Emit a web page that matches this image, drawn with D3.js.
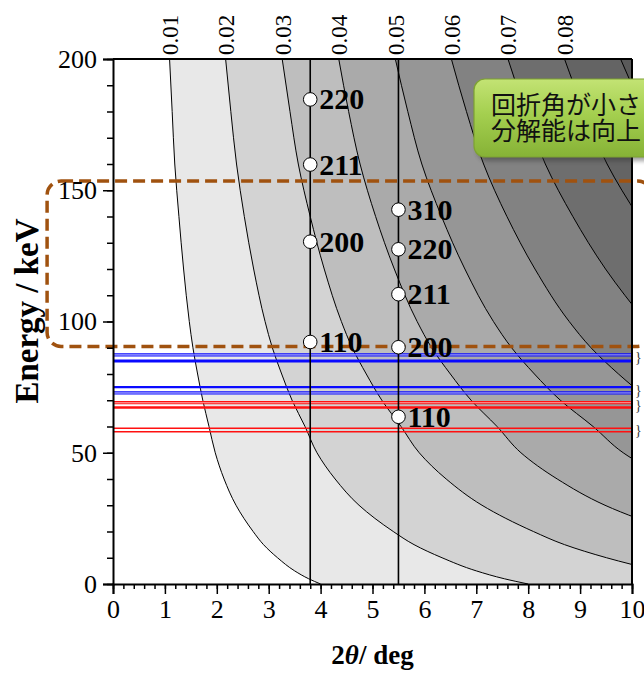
<!DOCTYPE html>
<html>
<head>
<meta charset="utf-8">
<script src="https://cdn.jsdelivr.net/npm/d3@7"></script>
<style>
  html, body { margin: 0; padding: 0; background: #ffffff; overflow: hidden; }
  svg { display: block; }
</style>
</head>
<body>
<svg id="chart" width="644" height="673"></svg>
<script>
// Energy levels (keV) at which each iso-line is sampled
const energyLevels = [200, 180, 160, 140, 120, 100, 90, 80, 70, 60, 50, 40, 30, 20, 15, 10, 5, 2, 0];

// 2θ (deg) of each iso-line at the energies above; a line stops once it leaves the frame
const isoLine1 = [1.09, 1.14, 1.19, 1.27, 1.36, 1.47, 1.54, 1.63, 1.73, 1.85, 1.97, 2.14, 2.37, 2.70, 2.90, 3.17, 3.50, 3.77, 4.00];
const isoLine2 = [2.17, 2.27, 2.38, 2.53, 2.71, 2.93, 3.07, 3.25, 3.45, 3.70, 3.93, 4.28, 4.74, 5.40, 5.80, 6.34, 7.00, 7.54, 8.00];
const isoLine3 = [3.26, 3.41, 3.57, 3.80, 4.07, 4.40, 4.61, 4.88, 5.18, 5.55, 5.90, 6.42, 7.11, 8.10, 8.70, 9.51, 10.50];
const isoLine4 = [4.35, 4.54, 4.76, 5.06, 5.42, 5.86, 6.14, 6.50, 6.90, 7.40, 7.86, 8.56, 9.48, 10.80];
const isoLine5 = [5.44, 5.68, 5.95, 6.33, 6.78, 7.33, 7.68, 8.12, 8.62, 9.25, 9.83, 10.70];
const isoLine6 = [6.52, 6.81, 7.14, 7.59, 8.13, 8.79, 9.21, 9.74, 10.34];
const isoLine7 = [7.61, 7.95, 8.33, 8.86, 9.49, 10.26];
const isoLine8 = [8.70, 9.08, 9.52, 10.12];
const isoLine9 = [9.78, 10.22];
const isoLabels = ["0.01", "0.02", "0.03", "0.04", "0.05", "0.06", "0.07", "0.08"];

// Fill of each band, from the left of the first iso-line to the right of the last
const bandGrays = ["#ffffff", "#e8e8e8", "#d3d3d3", "#bebebe", "#aaaaaa", "#969696", "#828282", "#6e6e6e", "#646464", "#5a5a5a"];

// Reflections of the bcc lattice at two fixed diffraction angles
const angleA = 3.8;
const hklA = ["110", "200", "211", "220"];
const energyA = [92.2, 130.4, 159.8, 184.6];
const angleB = 5.5;
const hklB = ["110", "200", "211", "220", "310"];
const energyB = [63.7, 90.2, 110.4, 127.5, 142.6];

// Fluorescence lines (keV): Kα2, Kα1, Kβ1, Kβ2
const pbLines = [72.80, 74.97, 84.94, 87.30];
const wLines = [57.98, 59.32, 67.24, 69.10];

// Highlighted energy window (keV) and its horizontal extent (deg)
const windowLow = 90.5;
const windowHigh = 153.5;
const windowLeft = -1.27;
const windowRight = 10.38;

const xTicks = d3.range(0, 11, 1);
const yTicks = [0, 50, 100, 150, 200];

const svg = d3.select("#chart");
const x = d3.scaleLinear().domain([0, 10]).range([113, 632]);
const y = d3.scaleLinear().domain([0, 200]).range([584, 59]);
const serif = "'Liberation Serif', 'Times New Roman', serif";

const defs = svg.append("defs");
defs.append("clipPath").attr("id", "plotClip")
  .append("rect")
  .attr("x", x(0)).attr("y", y(200))
  .attr("width", x(10) - x(0)).attr("height", y(0) - y(200));

const plot = svg.append("g").attr("clip-path", "url(#plotClip)");
plot.append("rect")
  .attr("x", x(0)).attr("y", y(200))
  .attr("width", x(10) - x(0)).attr("height", y(0) - y(200))
  .attr("fill", bandGrays[0]);

const isoLines = [isoLine1, isoLine2, isoLine3, isoLine4, isoLine5, isoLine6, isoLine7, isoLine8, isoLine9];
const isoPoints = isoLines.map(line => line.map((t, j) => [t, energyLevels[j]]));
const lineGen = d3.line()
  .x(d => x(d[0]))
  .y(d => y(d[1]))
  .curve(d3.curveMonotoneY);

// Bands: region to the right of each iso-line, painted from light to dark
isoPoints.forEach((pts, i) => {
  const last = pts[pts.length - 1];
  const d = lineGen(pts) +
    `L${x(12)},${y(last[1])}L${x(12)},${y(200)}Z`;
  plot.append("path").attr("d", d).attr("fill", bandGrays[i + 1]);
});

// Iso-lines
isoPoints.forEach(pts => {
  plot.append("path")
    .attr("d", lineGen(pts))
    .attr("fill", "none")
    .attr("stroke", "#000")
    .attr("stroke-width", 1);
});

// Fluorescence lines
function hLine(e, color, width, dy) {
  plot.append("line")
    .attr("x1", x(0)).attr("x2", x(10))
    .attr("y1", y(e) + dy).attr("y2", y(e) + dy)
    .attr("stroke", color).attr("stroke-width", width);
}
function doubleLine(e, color) {
  hLine(e, color, 1.1, -1.1);
  hLine(e, color, 1.1, 1.1);
  hLine(e, color, 1.2, 0);
  plot.append("line")
    .attr("x1", x(0)).attr("x2", x(10))
    .attr("y1", y(e)).attr("y2", y(e))
    .attr("stroke", "#ffffff").attr("stroke-opacity", 0.55).attr("stroke-width", 1);
}
// Pb
doubleLine(pbLines[3], "#0a0aff");
hLine(pbLines[2], "#0a0aff", 3, 0);
hLine(pbLines[1], "#0a0aff", 2.2, 0);
doubleLine(pbLines[0], "#0a0aff");
// W
doubleLine(wLines[3], "#ff1010");
hLine(wLines[2], "#ff1010", 2.6, 0);
hLine(wLines[1], "#ff1010", 1.4, 0);
hLine(wLines[0], "#ff1010", 1.4, 0);

// Fixed-angle lines
[angleA, angleB].forEach(a => {
  plot.append("line")
    .attr("x1", x(a)).attr("x2", x(a))
    .attr("y1", y(0)).attr("y2", y(200))
    .attr("stroke", "#000").attr("stroke-width", 1.6);
});

// Energy window
svg.append("rect")
  .attr("x", x(windowLeft)).attr("y", y(windowHigh))
  .attr("width", x(windowRight) - x(windowLeft)).attr("height", y(windowLow) - y(windowHigh))
  .attr("rx", 14).attr("ry", 14)
  .attr("fill", "none")
  .attr("stroke", "#a0520f")
  .attr("stroke-width", 3.5)
  .attr("stroke-dasharray", "12 6");

// Reflection markers and labels
function drawReflections(angle, hkls, energies) {
  const g = svg.append("g");
  energies.forEach((e, i) => {
    g.append("circle")
      .attr("cx", x(angle)).attr("cy", y(e)).attr("r", 6.8)
      .attr("fill", "#fff").attr("stroke", "#000").attr("stroke-width", 1);
    g.append("text")
      .attr("x", x(angle) + 9).attr("y", y(e) + 10)
      .attr("font-family", serif).attr("font-weight", "bold")
      .attr("font-size", 30).attr("fill", "#000")
      .text(hkls[i]);
  });
}
drawReflections(angleA, hklA, energyA);
drawReflections(angleB, hklB, energyB);

// Axes
const axisFont = g => g.selectAll("text")
  .attr("font-family", serif).attr("font-size", 26).attr("fill", "#000");

const xMinor = svg.append("g").attr("transform", `translate(0,${y(0)})`)
  .call(d3.axisBottom(x).tickValues(d3.range(0, 10.01, 0.2)).tickSize(5).tickFormat(""));
xMinor.select(".domain").remove();
xMinor.selectAll("line").attr("stroke-width", 1.5);

const xAxis = svg.append("g").attr("transform", `translate(0,${y(0)})`)
  .call(d3.axisBottom(x).tickValues(xTicks).tickSize(10).tickPadding(6).tickFormat(d3.format("d")));
xAxis.select(".domain").attr("stroke-width", 2);
xAxis.selectAll("line").attr("stroke-width", 1.5);
xAxis.call(axisFont);

const yMinor = svg.append("g").attr("transform", `translate(${x(0)},0)`)
  .call(d3.axisLeft(y).tickValues(d3.range(0, 201, 10)).tickSize(6).tickFormat(""));
yMinor.select(".domain").remove();
yMinor.selectAll("line").attr("stroke-width", 1.5);

const yAxis = svg.append("g").attr("transform", `translate(${x(0)},0)`)
  .call(d3.axisLeft(y).tickValues(yTicks).tickSize(10).tickPadding(6).tickFormat(d3.format("d")));
yAxis.select(".domain").attr("stroke-width", 2);
yAxis.selectAll("line").attr("stroke-width", 1.5);
yAxis.call(axisFont);

// Top and right frame
svg.append("line").attr("x1", x(0)).attr("x2", x(10)).attr("y1", y(200)).attr("y2", y(200))
  .attr("stroke", "#000").attr("stroke-width", 2);
svg.append("line").attr("x1", x(10)).attr("x2", x(10)).attr("y1", y(200)).attr("y2", y(0))
  .attr("stroke", "#000").attr("stroke-width", 2);

// Iso-line values along the top edge
isoLabels.forEach((lab, i) => {
  const cx = x(isoPoints[i][0][0]);
  svg.append("text")
    .attr("transform", `translate(${cx + 1},${y(200) - 4}) rotate(-90)`)
    .attr("dominant-baseline", "central")
    .attr("font-family", serif).attr("font-size", 23).attr("fill", "#000")
    .text(lab);
});

// Axis titles
const xt = svg.append("text")
  .attr("x", (x(0) + x(10)) / 2).attr("y", 664)
  .attr("text-anchor", "middle")
  .attr("font-family", serif).attr("font-size", 27).attr("font-weight", "bold");
xt.append("tspan").text("2");
xt.append("tspan").attr("font-style", "italic").text("θ");
xt.append("tspan").text("/ deg");

svg.append("text")
  .attr("transform", `translate(38,311) rotate(-90)`)
  .attr("text-anchor", "middle")
  .attr("font-family", serif).attr("font-size", 33).attr("font-weight", "bold")
  .text("Energy / keV");

// Braces grouping the fluorescence pairs
[[pbLines[2], pbLines[3]], [pbLines[0], pbLines[1]], [wLines[2], wLines[3]], [wLines[0], wLines[1]]]
  .forEach(pair => {
    svg.append("text")
      .attr("x", x(10) + 3).attr("y", y((pair[0] + pair[1]) / 2))
      .attr("dominant-baseline", "central")
      .attr("font-family", serif).attr("font-size", 14).attr("fill", "#333")
      .text("}");
  });

// Callout
const grad = defs.append("linearGradient").attr("id", "calloutFill")
  .attr("x1", 0).attr("y1", 0).attr("x2", 0).attr("y2", 1);
grad.append("stop").attr("offset", "0%").attr("stop-color", "#c3e374");
grad.append("stop").attr("offset", "45%").attr("stop-color", "#a4cf4f");
grad.append("stop").attr("offset", "100%").attr("stop-color", "#86b236");
const blur = defs.append("filter").attr("id", "shadow").attr("x", "-10%").attr("y", "-10%")
  .attr("width", "130%").attr("height", "140%");
blur.append("feGaussianBlur").attr("stdDeviation", 2);

svg.append("rect")
  .attr("x", 477).attr("y", 83).attr("width", 200).attr("height", 78).attr("rx", 11)
  .attr("fill", "#333").attr("opacity", 0.45).attr("filter", "url(#shadow)");
svg.append("rect")
  .attr("x", 474).attr("y", 79).attr("width", 200).attr("height", 78).attr("rx", 11)
  .attr("fill", "url(#calloutFill)").attr("stroke", "#7ea232").attr("stroke-width", 1.2);
const cjk = "'Noto Sans CJK JP', 'Noto Sans CJK SC', sans-serif";
const callout = svg.append("text")
  .attr("font-family", cjk).attr("font-size", 25).attr("fill", "#111");
callout.append("tspan").attr("x", 491).attr("y", 114).text("回折角が小さ");
callout.append("tspan").attr("x", 491).attr("y", 140).text("分解能は向上");
</script>
</body>
</html>
